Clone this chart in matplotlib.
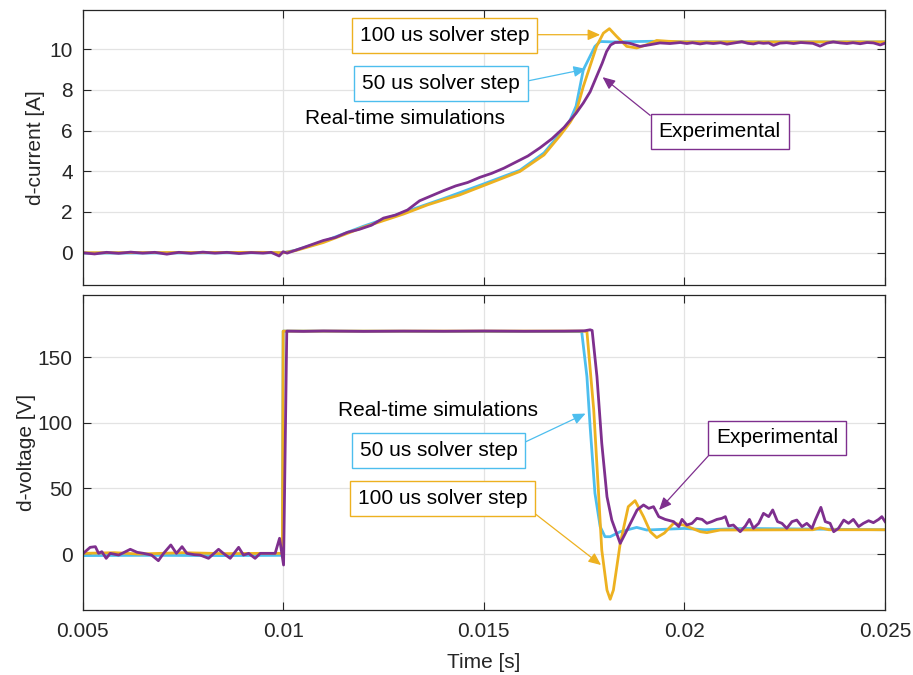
import matplotlib
matplotlib.use("Agg")
import matplotlib.pyplot as plt

plt.rcParams['font.family'] = ['Liberation Sans', 'DejaVu Sans']

C_50 = '#4DBEEE'
C_100 = '#EDB120'
C_EXP = '#7E2F8E'
TXT = '#262626'

# ---------------- data: d-current ----------------
t_i_50 = [0.005, 0.0100, 0.0103, 0.0110, 0.0120, 0.0130, 0.0140, 0.0150, 0.0159, 0.0165,
          0.0169, 0.01715, 0.0173, 0.01748, 0.01777, 0.0179, 0.0182, 0.0192, 0.0200, 0.025]
i_50 = [-0.02, 0.0, 0.12, 0.55, 1.3, 1.98, 2.66, 3.38, 4.05, 4.9,
        5.85, 6.5, 7.2, 8.98, 10.13, 10.37, 10.35, 10.38, 10.35, 10.35]

t_i_100 = [0.005, 0.0095, 0.0100, 0.0103, 0.0110, 0.0120, 0.0130, 0.0136, 0.0140, 0.0144,
           0.0150, 0.0159, 0.0165, 0.0169, 0.01715, 0.0173, 0.01748, 0.01781, 0.01798, 0.01813,
           0.01831, 0.01856, 0.01881, 0.01906, 0.01931, 0.0196, 0.0200, 0.0225, 0.025]
i_100 = [0.0, 0.02, 0.0, 0.1, 0.5, 1.25, 1.9, 2.35, 2.6, 2.84,
         3.3, 3.99, 4.8, 5.75, 6.4, 6.9, 8.16, 10.13, 10.78, 11.0,
         10.62, 10.13, 10.05, 10.21, 10.42, 10.38, 10.35, 10.35, 10.35]

t_i_exp = [0.0050, 0.0053, 0.0056, 0.0059, 0.0062, 0.0065, 0.0068, 0.0071, 0.0074, 0.0077,
           0.0080, 0.0083, 0.0086, 0.0089, 0.0092, 0.0095, 0.0097, 0.0099, 0.0100, 0.0101,
           0.0102, 0.0105, 0.0110, 0.0113, 0.0116, 0.0119, 0.0122, 0.0125, 0.0128, 0.0131,
           0.0134, 0.0137, 0.0140, 0.0143, 0.0146, 0.0149, 0.0152, 0.0155, 0.0158, 0.0161,
           0.0164, 0.0167, 0.0170, 0.01715, 0.0173, 0.01748, 0.01765, 0.01781, 0.01795, 0.01806,
           0.01816, 0.01827, 0.01845, 0.01864, 0.01889, 0.01914, 0.01939, 0.01964, 0.0199, 0.02006,
           0.0202, 0.02039, 0.02055, 0.02072, 0.0209, 0.02106, 0.02125, 0.02143, 0.02158, 0.02172,
           0.02185, 0.02197, 0.0221, 0.02222, 0.02238, 0.02255, 0.02272, 0.0229, 0.02305, 0.0232,
           0.02338, 0.02355, 0.02371, 0.02388, 0.02405, 0.0242, 0.02438, 0.02455, 0.02471, 0.02488,
           0.0250]
i_exp = [0.0, -0.06, 0.02, -0.03, 0.03, -0.02, 0.02, -0.07, 0.02, -0.03,
         0.03, -0.02, 0.02, -0.04, 0.01, -0.02, 0.02, -0.16, 0.05, -0.02,
         0.05, 0.25, 0.6, 0.75, 1.0, 1.15, 1.35, 1.7, 1.85, 2.1,
         2.55, 2.8, 3.05, 3.28, 3.45, 3.7, 3.9, 4.15, 4.45, 4.75,
         5.15, 5.6, 6.15, 6.5, 6.85, 7.35, 7.9, 8.65, 9.3, 9.88,
         10.2, 10.32, 10.33, 10.28, 10.13, 10.21, 10.3, 10.27, 10.32, 10.27,
         10.31, 10.25, 10.3, 10.27, 10.31, 10.24, 10.3, 10.36, 10.28, 10.25,
         10.31, 10.28, 10.3, 10.18, 10.29, 10.31, 10.27, 10.32, 10.3, 10.28,
         10.14, 10.29, 10.35, 10.3, 10.27, 10.31, 10.26, 10.32, 10.3, 10.2,
         10.29]

# ---------------- data: d-voltage ----------------
t_v_50 = [0.005, 0.0065, 0.0085, 0.00998, 0.0100, 0.01744, 0.01757, 0.01765, 0.01777, 0.0179,
          0.01802, 0.01815, 0.0184, 0.01881, 0.01906, 0.0200, 0.0205, 0.0215, 0.025]
v_50 = [-1.2, -1.0, -1.2, -1.0, 170.0, 169.6, 135.3, 97.1, 46.3, 20.9,
        13.2, 13.2, 17.0, 20.3, 18.3, 19.5, 18.5, 19.5, 18.5]

t_v_100 = [0.005, 0.0058, 0.0064, 0.0075, 0.0085, 0.0095, 0.00998, 0.0100, 0.0175, 0.01757,
           0.01774, 0.01786, 0.01794, 0.01807, 0.01815, 0.01823, 0.0184, 0.0186, 0.01877, 0.01898,
           0.01915, 0.01931, 0.0195, 0.01973, 0.01998, 0.0204, 0.02056, 0.02089, 0.0232, 0.02338,
           0.0236, 0.025]
v_100 = [0.5, 1.0, 0.0, 1.0, 0.3, 0.5, 0.5, 170.0, 170.0, 169.5,
         109.8, 46.3, 3.0, -27.5, -34.5, -27.5, 8.1, 36.1, 40.7, 28.5,
         17.0, 12.5, 16.0, 23.4, 22.1, 17.0, 16.3, 18.3, 18.5, 20.0,
         18.5, 18.5]

t_v_exp = [0.005, 0.00519, 0.00532, 0.0054, 0.00548, 0.00559, 0.00569, 0.0059, 0.00602, 0.00619,
           0.00636, 0.00652, 0.00672, 0.00689, 0.00702, 0.0072, 0.00734, 0.00748, 0.0076, 0.00778,
           0.00793, 0.00814, 0.00839, 0.00851, 0.00868, 0.00889, 0.00901, 0.00914, 0.0093, 0.00943,
           0.0096, 0.0098, 0.00991, 0.01001, 0.01009, 0.0105, 0.011, 0.012, 0.013, 0.014,
           0.015, 0.016, 0.017, 0.0175, 0.01765, 0.0177, 0.01782, 0.01794, 0.01807, 0.01819,
           0.0184, 0.01857, 0.01882, 0.01898, 0.01911, 0.01923, 0.01936, 0.01952, 0.01973, 0.01986,
           0.01994, 0.02006, 0.02019, 0.02031, 0.02044, 0.02056, 0.02068, 0.02081, 0.02093, 0.02102,
           0.0211, 0.02122, 0.02139, 0.02152, 0.02162, 0.02172, 0.02185, 0.02197, 0.0221, 0.0222,
           0.02232, 0.02243, 0.02255, 0.02268, 0.0228, 0.02293, 0.02305, 0.02318, 0.02326, 0.0234,
           0.02351, 0.02363, 0.02372, 0.02384, 0.02397, 0.02409, 0.02421, 0.02434, 0.02446, 0.02459,
           0.02471, 0.02484, 0.02492, 0.025]
v_exp = [0.0, 5.1, 5.6, 0.5, 1.8, -3.3, 0.5, -0.8, 1.0, 3.6,
         1.3, 0.5, -0.8, -5.1, 0.5, 6.9, 0.5, 5.6, 0.5, -0.5,
         -0.8, -3.3, 3.6, 0.5, -3.3, 5.1, -0.8, 0.5, -3.3, 0.5,
         0.5, 0.5, 12.0, -8.4, 170.0, 169.8, 170.1, 169.8, 170.0, 169.9,
         170.1, 169.9, 170.0, 170.2, 171.0, 170.5, 135.3, 84.4, 43.7, 25.9,
         8.1, 18.3, 33.6, 37.4, 34.8, 36.1, 28.5, 26.4, 24.7, 20.9,
         26.4, 22.1, 23.4, 27.2, 26.4, 23.4, 24.7, 26.4, 27.2, 28.5,
         21.4, 22.1, 17.0, 21.4, 26.4, 19.6, 23.4, 31.0, 28.5, 33.6,
         24.7, 23.4, 19.6, 24.7, 25.9, 20.9, 23.4, 19.6, 25.9, 35.6,
         24.7, 23.4, 17.0, 19.6, 25.9, 23.4, 26.4, 20.9, 23.4, 25.4,
         23.9, 26.4, 28.5, 24.7]

x_ticks = [0.005, 0.01, 0.015, 0.02, 0.025]
x_tick_labels = ['0.005', '0.01', '0.015', '0.02', '0.025']
i_ticks = [0, 2, 4, 6, 8, 10]
v_ticks = [0, 50, 100, 150]

fig = plt.figure(figsize=(9.13, 6.75), dpi=100)
ax1 = fig.add_axes([0.0904, 0.5773, 0.879, 0.4074])
ax2 = fig.add_axes([0.0904, 0.0963, 0.879, 0.4662])

LW = 2.0
for ax in (ax1, ax2):
    ax.set_xlim(0.005, 0.025)
    ax.set_xticks(x_ticks)
    ax.grid(True, color='#E3E3E3', lw=0.9)
    ax.set_axisbelow(True)
    ax.tick_params(direction='in', top=True, right=True, length=6, width=0.8,
                   colors=TXT, labelsize=15, pad=7)
    for s in ax.spines.values():
        s.set_color(TXT)
        s.set_linewidth(0.9)

ax1.plot(t_i_50, i_50, color=C_50, lw=LW)
ax1.plot(t_i_100, i_100, color=C_100, lw=LW)
ax1.plot(t_i_exp, i_exp, color=C_EXP, lw=LW)
ax1.set_ylim(-1.6, 11.9)
ax1.set_yticks(i_ticks)
ax1.set_xticklabels([])
ax1.set_ylabel('d-current [A]', fontsize=15, color=TXT)
ax1.yaxis.set_label_coords(-0.047, 0.5)

ax2.plot(t_v_50, v_50, color=C_50, lw=LW)
ax2.plot(t_v_100, v_100, color=C_100, lw=LW)
ax2.plot(t_v_exp, v_exp, color=C_EXP, lw=LW)
ax2.set_ylim(-42.7, 197.3)
ax2.set_yticks(v_ticks)
ax2.set_xticklabels(x_tick_labels)
ax2.tick_params(axis='x', pad=9)
ax2.set_ylabel('d-voltage [V]', fontsize=15, color=TXT)
ax2.yaxis.set_label_coords(-0.058, 0.5)
ax2.set_xlabel('Time [s]', fontsize=15, color=TXT)
ax2.xaxis.set_label_coords(0.5, -0.137)


def note(ax, text, xy, xytext, color, relpos):
    ax.annotate(text, xy=xy, xycoords='data', xytext=xytext, textcoords='axes fraction',
                ha='center', va='center', fontsize=15, color='black',
                bbox=dict(boxstyle='square,pad=0.38', fc='white', ec=color, lw=1.0),
                arrowprops=dict(arrowstyle='-|>,head_length=0.5,head_width=0.22',
                                color=color, lw=0.9, shrinkA=0, shrinkB=0, relpos=relpos))


# top annotations
note(ax1, '100 us solver step', (0.0179, 10.70), (0.451, 0.908), C_100, (1, 0.55))
note(ax1, '50 us solver step', (0.01755, 9.02), (0.4467, 0.734), C_50, (1, 0.55))
note(ax1, 'Experimental', (0.01796, 8.62), (0.7938, 0.559), C_EXP, (0, 1))
ax1.text(0.2773, 0.608, 'Real-time simulations', transform=ax1.transAxes,
         ha='left', va='center', fontsize=15, color='black')

# bottom annotations
note(ax2, '50 us solver step', (0.017536, 107.1), (0.4434, 0.5068), C_50, (1, 0.75))
note(ax2, '100 us solver step', (0.017922, -8.4), (0.4486, 0.3553), C_100, (1, 0))
note(ax2, 'Experimental', (0.019368, 33.6), (0.8654, 0.5466), C_EXP, (0, 0))
ax2.text(0.3187, 0.633, 'Real-time simulations', transform=ax2.transAxes,
         ha='left', va='center', fontsize=15, color='black')

fig.savefig('out.png', dpi=100)
